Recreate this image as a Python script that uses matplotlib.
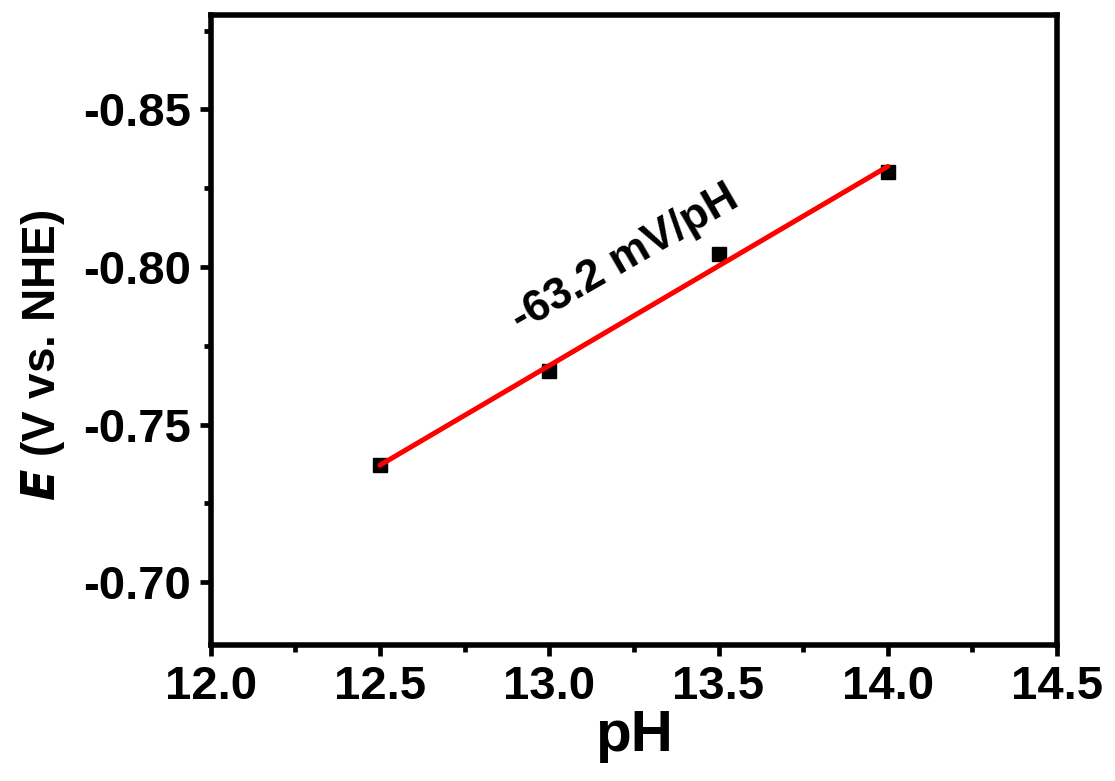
import numpy as np
import matplotlib.pyplot as plt
from matplotlib.ticker import MultipleLocator

plt.rcParams['font.family'] = ['Liberation Sans', 'DejaVu Sans']
plt.rcParams['font.weight'] = 'bold'

# data
ph = [12.5, 13.0, 13.5, 14.0]
potential = [-0.737, -0.767, -0.804, -0.830]

# linear fit
slope, intercept = np.polyfit(ph, potential, 1)
fit_x = np.array([ph[0], ph[-1]])
fit_y = slope * fit_x + intercept

fig = plt.figure(figsize=(11.15, 7.81), dpi=100)
ax = fig.add_axes([0.189, 0.174, 0.759, 0.807])

ax.plot(ph, potential, 's', color='black', markersize=9.5, zorder=2)
ax.plot(fit_x, fit_y, '-', color='red', linewidth=3.6, solid_capstyle='round', zorder=3)

ax.text(13.225, -0.8025, '-63.2 mV/pH', rotation=30, fontsize=32, fontweight='bold',
        ha='center', va='center', rotation_mode='anchor')

ax.set_xlim(12.0, 14.5)
ax.set_ylim(-0.68, -0.88)
ax.xaxis.set_major_locator(MultipleLocator(0.5))
ax.xaxis.set_minor_locator(MultipleLocator(0.25))
ax.yaxis.set_major_locator(MultipleLocator(0.05))
ax.yaxis.set_minor_locator(MultipleLocator(0.025))
ax.xaxis.set_major_formatter(plt.FormatStrFormatter('%.1f'))
ax.yaxis.set_major_formatter(plt.FormatStrFormatter('%.2f'))

for s in ax.spines.values():
    s.set_linewidth(4)

ax.tick_params(which='major', direction='out', length=8, width=3.4, labelsize=34, pad=6)
ax.tick_params(which='minor', direction='out', length=5, width=3.4)
for lab in ax.get_xticklabels() + ax.get_yticklabels():
    lab.set_fontweight('bold')

ax.set_xlabel('pH', fontsize=42, fontweight='bold', labelpad=0)
ax.set_ylabel(r'$\mathbf{\it{E}}$ (V vs. NHE)', fontsize=33, fontweight='bold')
ax.yaxis.set_label_coords(-0.17, 0.46)

fig.savefig('out.png', dpi=100)
